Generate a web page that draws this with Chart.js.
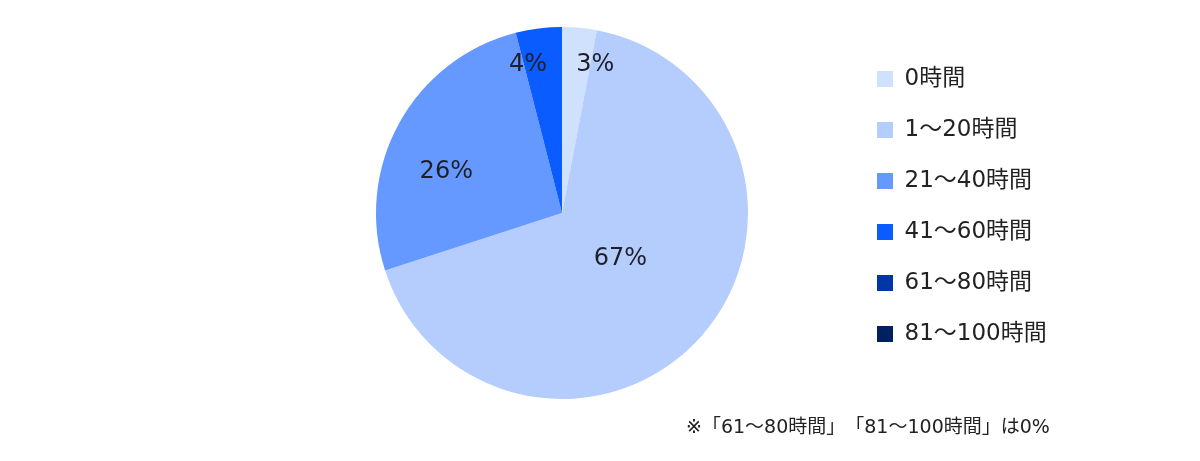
<!DOCTYPE html>
<html>
<head>
<meta charset="utf-8">
<script src="https://cdn.jsdelivr.net/npm/chart.js@4"></script>
<style>
  body { margin: 0; background: #fff; }
  #wrap { position: relative; width: 1200px; height: 461px; }
  #note {
    position: absolute; left: 686px; top: 411px;
    font: 19px "DejaVu Sans", "Noto Sans CJK JP", sans-serif; color: #222;
    white-space: nowrap;
    text-spacing-trim: space-all;
  }
</style>
</head>
<body>
<div id="wrap">
  <canvas id="pieChart"></canvas>
  <div id="note">※「61～80時間」「81～100時間」は0%</div>
</div>
<script>
// 学習時間の分布
const categories = ['0時間', '1～20時間', '21～40時間', '41～60時間', '61～80時間', '81～100時間'];
const shares = [3, 67, 26, 4, 0, 0];
const colors = ['#d0e1fd', '#b4cdfd', '#6699ff', '#0a5cff', '#0036a6', '#002060'];

// ラベル位置の微調整（角度ずれ・半径比）
const labelShift = [7.3, -3, -9.3, -5.7, 0, 0];
const labelRadius = [0.816, 0.4, 0.66, 0.816, 0, 0];

const FONT = '"DejaVu Sans", "Noto Sans CJK JP", sans-serif';
const LEGEND_SIZE = 23;
const BOX = 16;
const PAD = 28;

// 凡例の幅を測って右余白を決める（凡例の左端を 849px に置く）
const measure = document.createElement('canvas').getContext('2d');
measure.font = LEGEND_SIZE + 'px ' + FONT;
const textW = Math.max(...categories.map(c => measure.measureText(c).width));
const legendW = PAD + BOX + LEGEND_SIZE / 2 + textW + 10;
const padRight = 1200 - 849 - legendW;

const pctLabels = {
  id: 'pctLabels',
  afterDatasetsDraw(chart) {
    const ctx = chart.ctx;
    const arcs = chart.getDatasetMeta(0).data;
    ctx.save();
    ctx.font = '24px ' + FONT;
    ctx.fillStyle = '#1f1f2a';
    ctx.textAlign = 'center';
    ctx.textBaseline = 'middle';
    arcs.forEach((arc, i) => {
      if (!shares[i]) return;
      const mid = (arc.startAngle + arc.endAngle) / 2 + labelShift[i] * Math.PI / 180;
      const r = arc.outerRadius * labelRadius[i];
      ctx.fillText(shares[i] + '%', arc.x + Math.cos(mid) * r, arc.y + Math.sin(mid) * r);
    });
    ctx.restore();
  }
};

new Chart(document.getElementById('pieChart'), {
  type: 'pie',
  data: {
    labels: categories,
    datasets: [{
      data: shares,
      backgroundColor: colors,
      borderWidth: 0,
      hoverOffset: 0
    }]
  },
  options: {
    responsive: true,
    maintainAspectRatio: false,
    animation: false,
    layout: { padding: { top: 27, bottom: 62, left: 275, right: padRight } },
    plugins: {
      tooltip: { enabled: false },
      legend: {
        position: 'right',
        align: 'start',
        title: { display: true, text: ' ', font: { size: 1, lineHeight: 1 }, padding: { top: 0, bottom: 11.5 } },
        labels: {
          boxWidth: BOX,
          boxHeight: BOX,
          padding: PAD,
          color: '#222',
          font: { size: LEGEND_SIZE, family: FONT }
        }
      }
    }
  },
  plugins: [pctLabels]
});
</script>
</body>
</html>
